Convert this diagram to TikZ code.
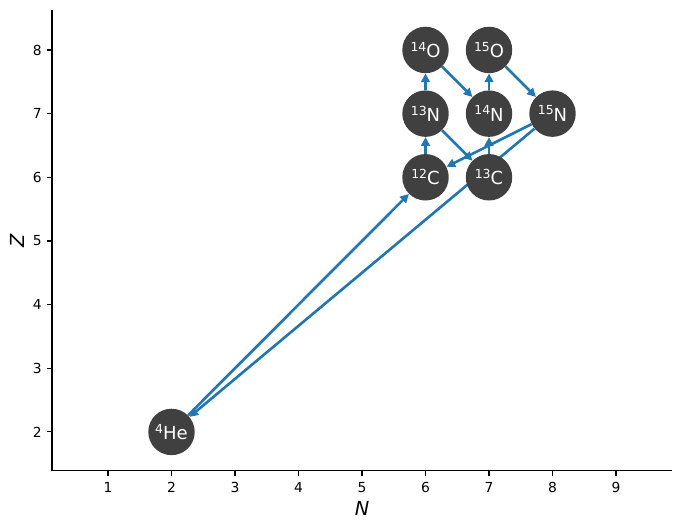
\documentclass[tikz,border=0pt]{standalone}
\usepackage{fontspec}
\setmainfont{DejaVu Sans}[ItalicFont={DejaVu Sans Oblique}]
\usepackage{tikz}
\usetikzlibrary{arrows.meta,backgrounds}

\definecolor{nucgray}{RGB}{64,64,64}
\definecolor{flowblue}{RGB}{31,119,180}
\newcommand{\iso}[2]{\raisebox{4.6pt}{\fontsize{9}{9}\selectfont #1}#2}

\tikzset{
  nuc/.style={circle, fill=nucgray, text=white, minimum size=1.18cm,
    inner sep=0pt, font=\fontsize{13}{15}\selectfont},
  flow/.style={draw=flowblue, line width=1.9pt,
    -{Triangle[length=2.2mm,width=2.2mm]}},
  spine/.style={line width=0.8pt},
  ticklabel/.style={inner sep=0pt, font=\fontsize{10}{12}\selectfont}
}

\begin{document}
\begin{tikzpicture}[x=1.613cm, y=1.617cm]
  \useasboundingbox (-0.7008,0.4766) rectangle (10.039,8.785);
  % axes
  \draw[spine] (0.118,8.628) -- (0.118,1.3875) -- (9.882,1.3875);
  \foreach \n in {1,...,9}
    \draw[spine] (\n,1.3875) -- ++(0,-3.5pt)
      node[ticklabel, below=4.5pt] (xt\n) {\n};
  \foreach \z in {2,...,8}
    \draw[spine] (0.118,\z) -- ++(-3.5pt,0)
      node[ticklabel, left=3.5pt] (yt\z) {\z};
  \node[inner sep=0pt, font=\fontsize{14}{16}\selectfont\itshape] (nlabel) at (5,0.791) {N};
  \node[inner sep=0pt, rotate=90, font=\fontsize{14}{16}\selectfont\itshape] (zlabel) at (-0.433,5) {Z};

  % nuclides
  \node[nuc] (he4) at (2,2) {\iso{4}{He}};
  \node[nuc] (c12) at (6,6) {\iso{12}{C}};
  \node[nuc] (c13) at (7,6) {\iso{13}{C}};
  \node[nuc] (n13) at (6,7) {\iso{13}{N}};
  \node[nuc] (n14) at (7,7) {\iso{14}{N}};
  \node[nuc] (n15) at (8,7) {\iso{15}{N}};
  \node[nuc] (o14) at (6,8) {\iso{14}{O}};
  \node[nuc] (o15) at (7,8) {\iso{15}{O}};

  % reactions, behind the nuclides
  \begin{scope}[on background layer]
    \draw[flow] (c12) -- (n13);
    \draw[flow] (n13) -- (c13);
    \draw[flow] (c13) -- (n14);
    \draw[flow] (n14) -- (o15);
    \draw[flow] (o15) -- (n15);
    \draw[flow] (n15) -- (c12);
    \draw[flow] (n15) -- (he4);
    \draw[flow] (he4) -- (c12);
    \draw[flow] (n13) -- (o14);
    \draw[flow] (o14) -- (n14);
  \end{scope}
\end{tikzpicture}
\end{document}
